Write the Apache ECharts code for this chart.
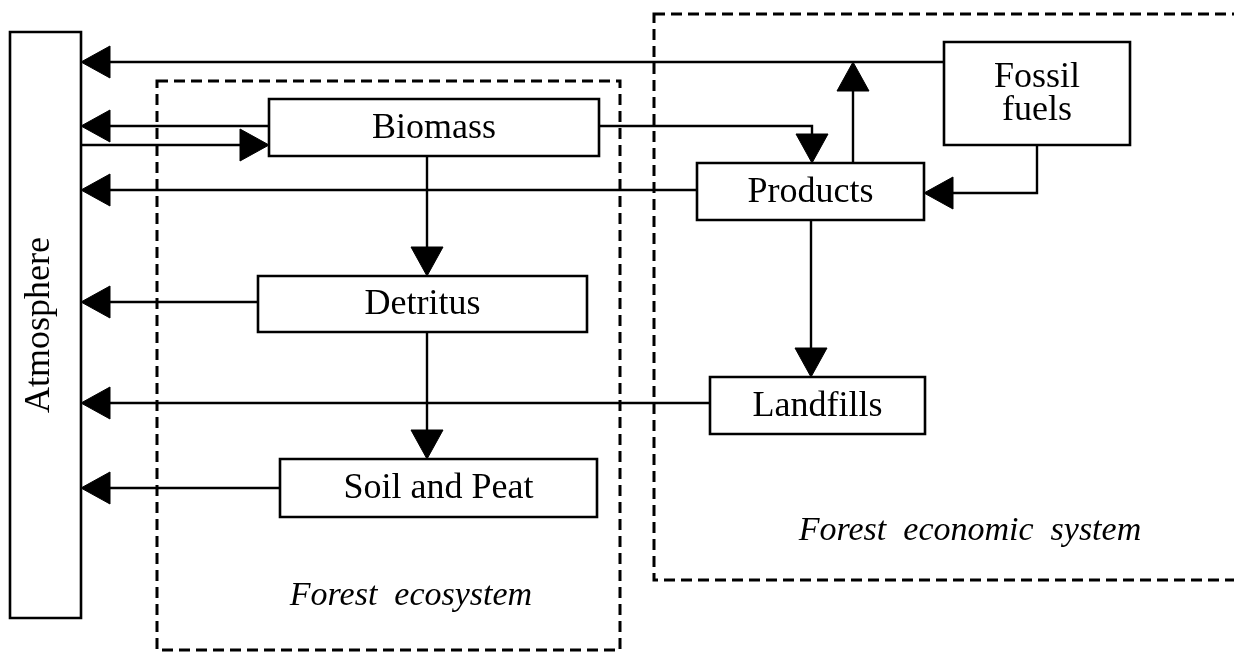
<!DOCTYPE html>
<html><head><meta charset="utf-8">
<script src="https://cdn.jsdelivr.net/npm/echarts@6/dist/echarts.min.js"></script>
<style>html,body{margin:0;padding:0;background:#fff}#c{width:1234px;height:654px}</style>
</head><body><div id="c"></div>
<script>
// ---- Diagram data (units of the hidden x/y axes) ----
// Compartments (boxes)
const boxNames  = ['Atmosphere', 'Biomass', 'Detritus', 'Soil and Peat', 'Products', 'Fossil\nfuels', 'Landfills'];
const boxLeft   = [10, 269, 258, 280, 697, 944, 710];
const boxRight  = [81, 599, 587, 597, 924, 1130, 925];
const boxTop    = [32, 99, 276, 459, 163, 42, 377];
const boxBottom = [618, 156, 332, 517, 220, 145, 434];
const boxVertical = [true, false, false, false, false, false, false];

// Carbon flows (polylines, arrow at the last point)
const flowNames = ['Fossil fuels → Atmosphere', 'Biomass → Atmosphere', 'Atmosphere → Biomass',
  'Products → Atmosphere', 'Detritus → Atmosphere', 'Landfills → Atmosphere', 'Soil and Peat → Atmosphere',
  'Biomass → Detritus', 'Detritus → Soil and Peat', 'Biomass → Products', 'Products → Atmosphere (up)',
  'Fossil fuels → Products', 'Products → Landfills'];
const flowX = [[944, 81], [269, 81], [81, 269], [697, 81], [258, 81], [710, 81], [280, 81],
  [427, 427], [427, 427], [599, 812, 812], [853, 853], [1037, 1037, 924], [811, 811]];
const flowY = [[62, 62], [126, 126], [145, 145], [190, 190], [302, 302], [403, 403], [488, 488],
  [156, 276], [332, 459], [126, 126, 163], [163, 62], [145, 193, 193], [220, 377]];

// Systems (dashed outlines)
const systemNames  = ['Forest  ecosystem', 'Forest  economic  system'];
const systemLeft   = [157, 654];
const systemRight  = [620, 1240];
const systemTop    = [81, 14];
const systemBottom = [650, 580];
const systemLabelX = [411, 970];
const systemLabelY = [596, 531];

const FONT = '"Liberation Serif", "Times New Roman", serif';

const chart = echarts.init(document.getElementById('c'), null, {renderer: 'canvas'});

function rectFrom(api, x0, y0, x1, y1) {
  const p0 = api.coord([x0, y0]);
  const p1 = api.coord([x1, y1]);
  return {
    x: Math.min(p0[0], p1[0]), y: Math.min(p0[1], p1[1]),
    width: Math.abs(p1[0] - p0[0]), height: Math.abs(p1[1] - p0[1])
  };
}

function renderSystem(params, api) {
  const i = params.dataIndex;
  const r = rectFrom(api, systemLeft[i], systemTop[i], systemRight[i], systemBottom[i]);
  const lp = api.coord([systemLabelX[i], systemLabelY[i]]);
  return {
    type: 'group',
    children: [
      {type: 'rect', shape: r, style: {fill: 'none', stroke: '#000', lineWidth: 3, lineDash: [11, 6]}},
      {type: 'text', x: lp[0], y: lp[1], style: {
        text: systemNames[i], fill: '#000', fontSize: 34, fontStyle: 'italic',
        fontFamily: FONT, align: 'center', verticalAlign: 'middle'}}
    ]
  };
}

function renderFlow(params, api) {
  const i = params.dataIndex;
  const pts = flowX[i].map((x, k) => api.coord([x, flowY[i][k]]));
  const n = pts.length;
  const a = pts[n - 2], b = pts[n - 1];
  const dx = b[0] - a[0], dy = b[1] - a[1];
  const len = Math.sqrt(dx * dx + dy * dy) || 1;
  const ux = dx / len, uy = dy / len;
  const L = 29, W = 32;
  const base = [b[0] - ux * L, b[1] - uy * L];
  const nx = -uy, ny = ux;
  const linePts = pts.slice(0, n - 1).concat([base]);
  return {
    type: 'group',
    children: [
      {type: 'polyline', shape: {points: linePts}, style: {stroke: '#000', lineWidth: 2.4, fill: 'none'}},
      {type: 'polygon', shape: {points: [b, [base[0] + nx * W / 2, base[1] + ny * W / 2], [base[0] - nx * W / 2, base[1] - ny * W / 2]]},
        style: {fill: '#000', stroke: '#000', lineWidth: 1}}
    ]
  };
}

function renderBox(params, api) {
  const i = params.dataIndex;
  const r = rectFrom(api, boxLeft[i], boxTop[i], boxRight[i], boxBottom[i]);
  const cx = r.x + r.width / 2, cy = r.y + r.height / 2;
  return {
    type: 'group',
    children: [
      {type: 'rect', shape: r, style: {fill: '#fff', stroke: '#000', lineWidth: 2.6}},
      {type: 'text', x: boxVertical[i] ? cx - 6 : cx, y: boxVertical[i] ? cy : cy + 1,
        rotation: boxVertical[i] ? Math.PI / 2 : 0,
        style: {text: boxNames[i], fill: '#000', fontSize: 36, fontFamily: FONT,
          align: 'center', verticalAlign: 'middle', lineHeight: 33}}
    ]
  };
}

chart.setOption({
  animation: false,
  backgroundColor: '#fff',
  grid: {left: 0, right: 0, top: 0, bottom: 0},
  xAxis: {type: 'value', min: 0, max: 1234, show: false},
  yAxis: {type: 'value', min: 0, max: 654, inverse: true, show: false},
  series: [
    {type: 'custom', name: 'Systems', z: 1, renderItem: renderSystem,
      data: systemNames.map((s, i) => [systemLeft[i], systemTop[i]])},
    {type: 'custom', name: 'Flows', z: 2, renderItem: renderFlow,
      data: flowNames.map((s, i) => [flowX[i][0], flowY[i][0]])},
    {type: 'custom', name: 'Compartments', z: 3, renderItem: renderBox,
      data: boxNames.map((s, i) => [boxLeft[i], boxTop[i]])}
  ]
});
</script>
</body></html>
